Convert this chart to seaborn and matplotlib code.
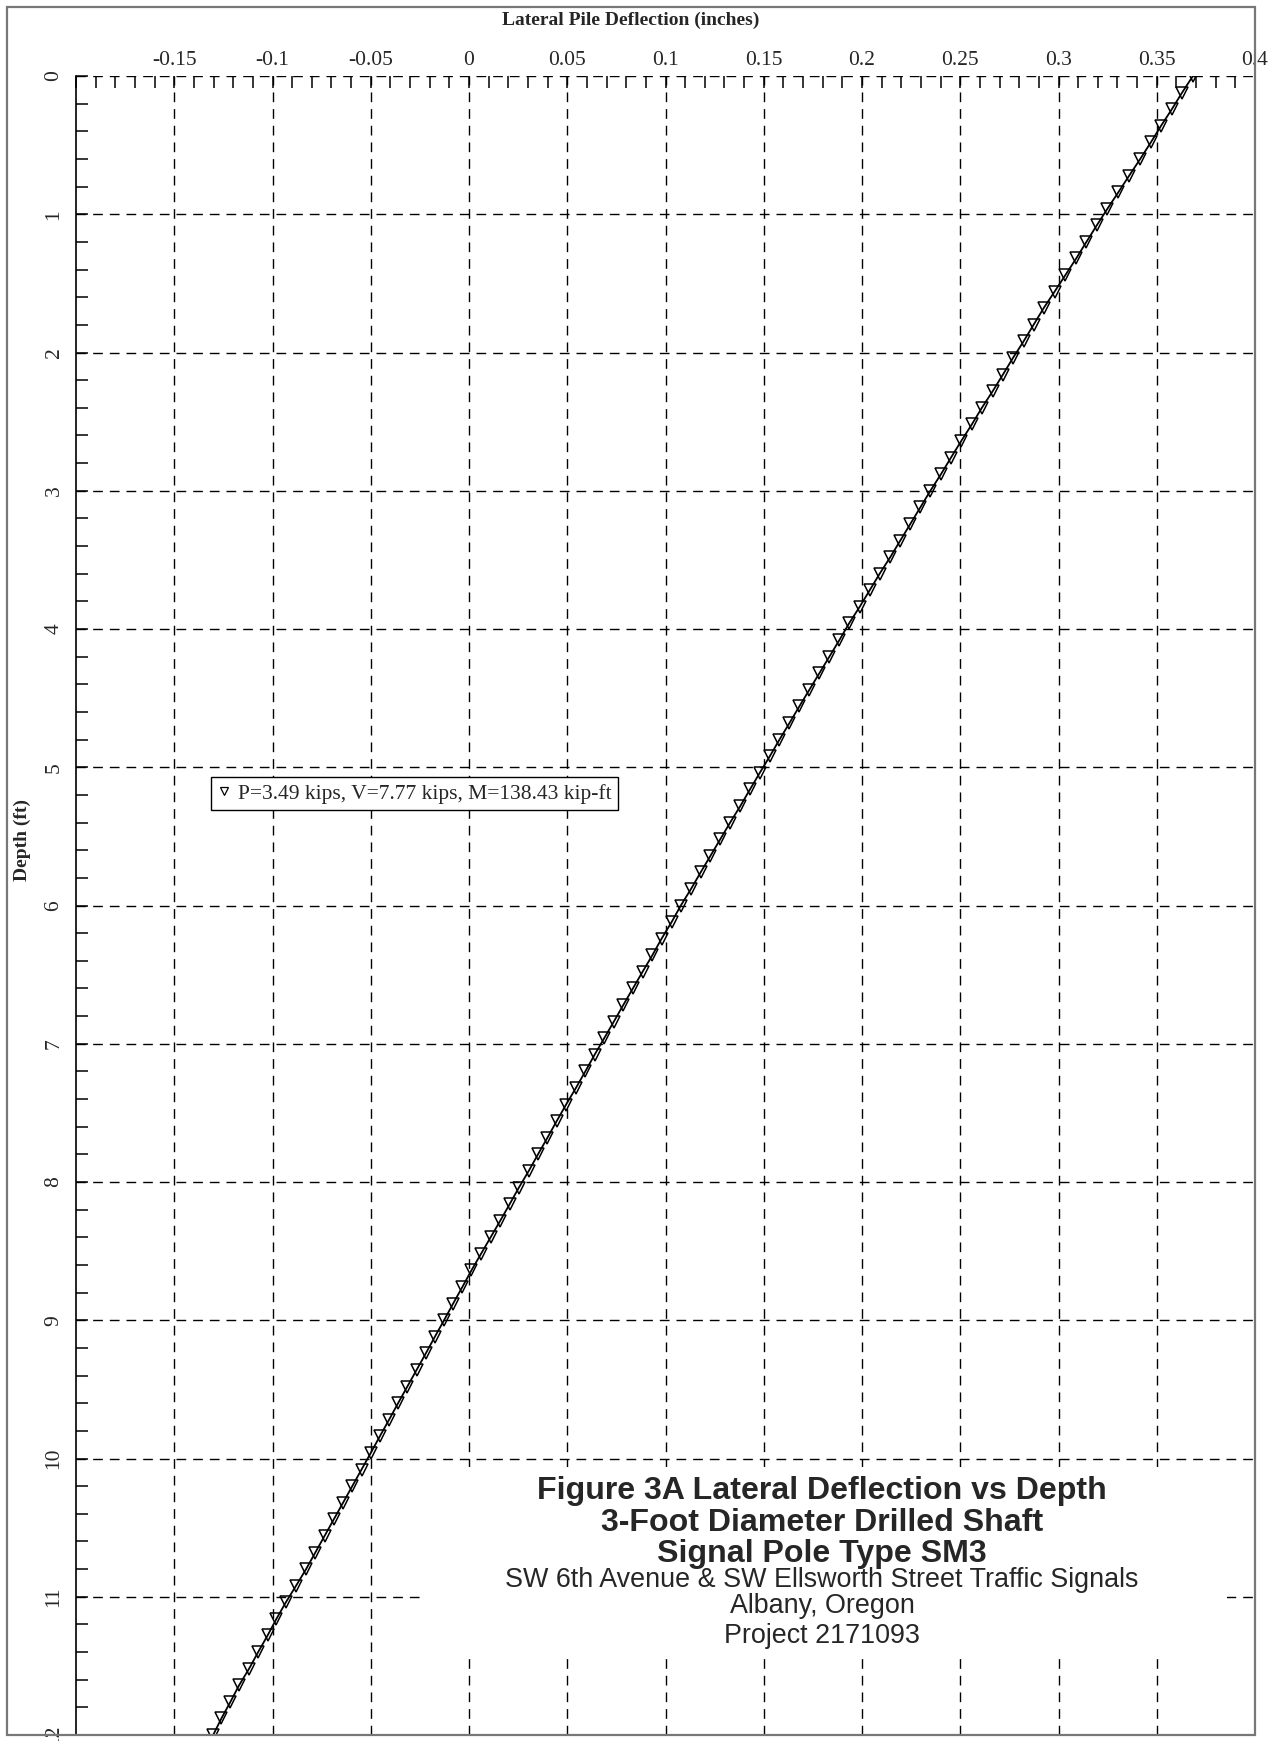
import matplotlib
matplotlib.use("Agg")
import matplotlib.pyplot as plt
import seaborn as sns
import pandas as pd
from matplotlib.lines import Line2D
from matplotlib.patches import Rectangle
from matplotlib.ticker import MultipleLocator

# depth below top of shaft (ft)
depth = [
    0.00, 0.12, 0.24, 0.36, 0.48, 0.60, 0.72, 0.84, 0.96, 1.08,
    1.20, 1.32, 1.44, 1.56, 1.68, 1.80, 1.92, 2.04, 2.16, 2.28,
    2.40, 2.52, 2.64, 2.76, 2.88, 3.00, 3.12, 3.24, 3.36, 3.48,
    3.60, 3.72, 3.84, 3.96, 4.08, 4.20, 4.32, 4.44, 4.56, 4.68,
    4.80, 4.92, 5.04, 5.16, 5.28, 5.40, 5.52, 5.64, 5.76, 5.88,
    6.00, 6.12, 6.24, 6.36, 6.48, 6.60, 6.72, 6.84, 6.96, 7.08,
    7.20, 7.32, 7.44, 7.56, 7.68, 7.80, 7.92, 8.04, 8.16, 8.28,
    8.40, 8.52, 8.64, 8.76, 8.88, 9.00, 9.12, 9.24, 9.36, 9.48,
    9.60, 9.72, 9.84, 9.96, 10.08, 10.20, 10.32, 10.44, 10.56, 10.68,
    10.80, 10.92, 11.04, 11.16, 11.28, 11.40, 11.52, 11.64, 11.76, 11.88,
    12.00,
]

# lateral deflection (inches)
deflection = [
    0.3684, 0.3629, 0.3577, 0.3522, 0.3470, 0.3416, 0.3360, 0.3305, 0.3249, 0.3195,
    0.3142, 0.3090, 0.3035, 0.2980, 0.2924, 0.2873, 0.2822, 0.2768, 0.2717, 0.2665,
    0.2610, 0.2559, 0.2505, 0.2453, 0.2402, 0.2348, 0.2297, 0.2246, 0.2195, 0.2144,
    0.2090, 0.2039, 0.1988, 0.1934, 0.1885, 0.1834, 0.1783, 0.1732, 0.1681, 0.1631,
    0.1580, 0.1531, 0.1480, 0.1430, 0.1381, 0.1329, 0.1279, 0.1229, 0.1179, 0.1130,
    0.1078, 0.1031, 0.0980, 0.0933, 0.0883, 0.0834, 0.0785, 0.0737, 0.0688, 0.0639,
    0.0592, 0.0544, 0.0494, 0.0446, 0.0399, 0.0351, 0.0304, 0.0254, 0.0207, 0.0159,
    0.0110, 0.0061, 0.0012, -0.0034, -0.0081, -0.0127, -0.0174, -0.0220, -0.0267, -0.0314,
    -0.0361, -0.0407, -0.0454, -0.0500, -0.0547, -0.0594, -0.0641, -0.0688, -0.0735, -0.0782,
    -0.0829, -0.0880, -0.0932, -0.0980, -0.1025, -0.1073, -0.1119, -0.1170, -0.1214, -0.1260,
    -0.1302,
]

x_ticks = [-0.15, -0.1, -0.05, 0, 0.05, 0.1, 0.15, 0.2, 0.25, 0.3, 0.35, 0.4]
x_ticklabels = ["-0.15", "-0.1", "-0.05", "0", "0.05", "0.1", "0.15", "0.2",
                "0.25", "0.3", "0.35", "0.4"]
y_ticks = list(range(0, 13))

legend_label = "P=3.49 kips, V=7.77 kips, M=138.43 kip-ft"
title_bold = ["Figure 3A Lateral Deflection vs Depth",
              "3-Foot Diameter Drilled Shaft",
              "Signal Pole Type SM3"]
title_plain = ["SW 6th Avenue & SW Ellsworth Street Traffic Signals",
               "Albany, Oregon",
               "Project 2171093"]

df = pd.DataFrame({"Deflection": deflection, "Depth": depth})

sns.set_style("white")
plt.rcParams["font.family"] = ["Liberation Serif", "DejaVu Serif"]

W, H = 1281, 1741
fig = plt.figure(figsize=(W / 100, H / 100), dpi=100)

# pixel -> figure fraction helpers
def fx(px):
    return px / W

def fy(py):
    return 1 - py / H

ax = fig.add_axes([fx(76), fy(1735), fx(1255) - fx(76), fy(76) - fy(1735)])

sns.lineplot(data=df, x="Deflection", y="Depth", orient="y", errorbar=None,
             color="black", lw=1.3, marker="v", markersize=8,
             markerfacecolor="none", markeredgecolor="black",
             markeredgewidth=1.1, ax=ax, zorder=4)

ax.set_xlim(-0.2, 0.4)
ax.set_ylim(12, 0)

ax.xaxis.tick_top()
ax.set_xticks(x_ticks)
ax.set_xticklabels(x_ticklabels)
ax.xaxis.set_minor_locator(MultipleLocator(0.01))
ax.set_yticks(y_ticks)
ax.yaxis.set_minor_locator(MultipleLocator(0.2))

ax.tick_params(axis="x", which="both", direction="in", top=True, bottom=False,
               length=8.5, width=1.1, color="black", labelsize=15.5, pad=4)
ax.tick_params(axis="y", which="both", direction="in", left=True, right=False,
               length=8.5, width=1.1, color="black", labelsize=15.5, pad=9,
               labelrotation=90)
for lbl in ax.get_yticklabels():
    lbl.set_verticalalignment("center")

ax.set_xlabel("")
ax.set_ylabel("")

ax.set_axisbelow(True)
ax.grid(True, which="major", color="black", lw=1.0, linestyle=(0, (7, 5)))

for side in ["top", "right", "bottom"]:
    ax.spines[side].set_visible(False)
ax.spines["left"].set_color("black")
ax.spines["left"].set_linewidth(1.2)

# axis titles
fig.text(fx(631), fy(20), "Lateral Pile Deflection (inches)", ha="center",
         va="center", fontsize=14, fontweight="bold")
fig.text(fx(22), fy(840), "Depth (ft)", ha="center", va="center",
         rotation=90, fontsize=14, fontweight="bold")

# legend
handle = Line2D([], [], color="black", marker="v", linestyle="none",
                markersize=6, markerfacecolor="none", markeredgewidth=0.9)
leg = ax.legend([handle], [legend_label], loc="upper left",
                bbox_to_anchor=((211 - 76) / 1179, (1735 - 777) / 1659),
                fontsize=15.5, frameon=True, fancybox=False, framealpha=1,
                edgecolor="black", handlelength=0.6, handletextpad=0.35,
                borderpad=0.3, borderaxespad=0)
leg.get_frame().set_linewidth(1.0)

# white block behind the figure caption
ax.add_patch(Rectangle((fx(422), fy(1654)), fx(1227) - fx(422), fy(1467) - fy(1654),
                       transform=fig.transFigure, facecolor="white",
                       edgecolor="none", zorder=3))

cap_font = ["Liberation Sans", "DejaVu Sans"]
for txt, py in zip(title_bold, [1491, 1523, 1554]):
    fig.text(fx(822), fy(py), txt, ha="center", va="center", fontsize=23.1,
             fontweight="bold", family=cap_font, zorder=5)
for txt, py in zip(title_plain, [1580, 1606, 1636]):
    fig.text(fx(822), fy(py), txt, ha="center", va="center", fontsize=19.4,
             family=cap_font, zorder=5)

# grey outer frame
fig.patches.append(Rectangle((fx(7), fy(1735)), fx(1255) - fx(7), fy(7) - fy(1735),
                             transform=fig.transFigure, fill=False,
                             edgecolor="#777777", lw=1.6))

fig.savefig("out.png", dpi=100)
